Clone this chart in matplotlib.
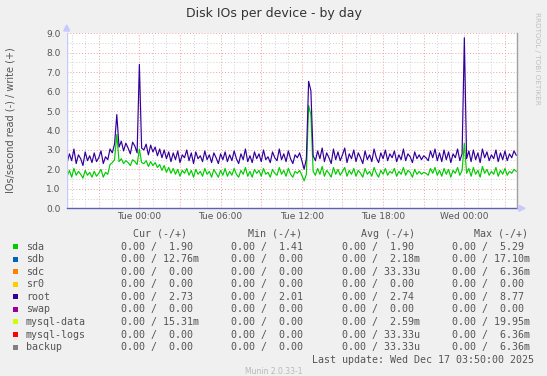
import numpy as np
import pandas as pd
import matplotlib
matplotlib.use("Agg")
import matplotlib.pyplot as plt
import matplotlib.dates as mdates
import matplotlib.ticker as ticker
from matplotlib.patches import Rectangle

# 10 minute samples, Mon 18:40 .. Wed 03:50
times = pd.date_range("2025-12-15 18:40", "2025-12-17 03:50", freq="10min")

# root (write), one row = one hour
root = [
    2.35, 2.80, 2.45, 3.05, 2.30, 2.75,
    2.55, 2.20, 2.90, 2.45, 2.70, 2.35,
    2.85, 2.40, 2.60, 2.95, 2.30, 2.65,
    2.50, 3.05, 2.85, 3.30, 4.82, 3.15,
    3.45, 2.95, 3.35, 3.10, 2.80, 3.40,
    3.20, 2.85, 7.40, 3.10, 3.00, 3.30,
    2.75, 3.25, 2.90, 3.15, 2.70, 3.05,
    2.60, 3.00, 2.55, 2.90, 2.40, 2.85,
    2.50, 2.95, 2.35, 2.75, 2.60, 3.00,
    2.45, 2.85, 2.30, 2.90, 2.55, 2.70,
    2.40, 2.95, 2.50, 2.75, 2.35, 2.85,
    2.60, 2.30, 2.80, 2.50, 2.90, 2.40,
    2.75, 2.45, 2.95, 2.55, 2.30, 2.80,
    2.50, 3.05, 2.40, 2.70, 2.35, 2.90,
    2.55, 2.80, 2.40, 3.00, 2.50, 2.65,
    2.35, 2.90, 2.60, 2.45, 3.05, 2.50,
    2.80, 2.40, 2.95, 2.55, 2.30, 2.75,
    2.60, 2.85, 2.45, 2.01, 2.55, 6.53,
    6.05, 2.70, 2.45, 2.95, 2.55, 3.10,
    2.40, 2.85, 2.60, 2.30, 3.05, 2.50,
    2.90, 2.45, 2.75, 3.10, 2.35, 2.80,
    2.55, 3.00, 2.40, 2.85, 2.60, 2.30,
    2.95, 2.50, 2.75, 2.40, 3.05, 2.60,
    2.35, 2.85, 2.55, 3.00, 2.45, 2.80,
    2.60, 2.95, 2.40, 2.75, 2.50, 3.05,
    2.45, 2.80, 2.65, 2.35, 2.90, 2.55,
    2.75, 2.50, 2.70, 2.60, 2.45, 2.95,
    2.60, 3.05, 2.45, 2.85, 2.40, 3.00,
    2.50, 2.90, 2.35, 2.80, 2.60, 3.05,
    2.45, 2.80, 8.77, 2.55, 2.95, 2.40,
    3.00, 2.50, 2.85, 2.35, 3.05, 2.60,
    2.90, 2.45, 2.75, 2.55, 3.00, 2.40,
    2.85, 2.50, 2.95, 2.45, 2.80, 2.60,
    2.95, 2.73,
]

# sda (write)
sda = [
    1.65, 1.95, 1.60, 2.05, 1.70, 1.90,
    1.75, 1.55, 1.95, 1.70, 1.85, 1.60,
    1.90, 1.65, 1.80, 2.00, 1.60, 1.85,
    1.75, 2.25, 2.35, 2.50, 3.80, 2.40,
    2.55, 2.30, 2.45, 2.35, 2.20, 2.50,
    2.40, 2.25, 3.05, 2.35, 2.30, 2.45,
    2.15, 2.40, 2.20, 2.35, 2.10, 2.25,
    1.95, 2.20, 1.85, 2.10, 1.80, 2.05,
    1.75, 2.00, 1.65, 1.95, 1.80, 2.05,
    1.70, 1.95, 1.60, 2.00, 1.75, 1.90,
    1.65, 2.05, 1.75, 1.90, 1.60, 2.00,
    1.80, 1.60, 1.95, 1.70, 2.05, 1.65,
    1.90, 1.70, 2.05, 1.75, 1.60, 1.95,
    1.75, 2.10, 1.65, 1.90, 1.60, 2.00,
    1.80, 1.95, 1.65, 2.05, 1.75, 1.85,
    1.60, 2.00, 1.80, 1.70, 2.10, 1.75,
    1.95, 1.65, 2.05, 1.75, 1.60, 1.90,
    1.80, 1.95, 1.70, 1.41, 1.75, 5.29,
    4.80, 1.90, 1.70, 2.05, 1.75, 2.15,
    1.65, 1.95, 1.80, 1.60, 2.10, 1.75,
    2.00, 1.70, 1.90, 2.10, 1.65, 1.95,
    1.75, 2.05, 1.65, 1.95, 1.80, 1.60,
    2.05, 1.75, 1.90, 1.65, 2.10, 1.80,
    1.60, 1.95, 1.75, 2.05, 1.70, 1.90,
    1.80, 2.05, 1.65, 1.90, 1.75, 2.10,
    1.70, 1.95, 1.85, 1.60, 2.00, 1.75,
    1.90, 1.75, 1.85, 1.80, 1.70, 2.05,
    1.80, 2.10, 1.70, 1.95, 1.65, 2.05,
    1.75, 2.00, 1.60, 1.95, 1.80, 2.10,
    1.70, 1.95, 3.35, 1.80, 2.05, 1.65,
    2.10, 1.75, 1.95, 1.60, 2.15, 1.80,
    2.00, 1.70, 1.90, 1.75, 2.10, 1.65,
    1.95, 1.75, 2.05, 1.70, 1.90, 1.80,
    2.00, 1.90,
]

# legend table
names = ["sda", "sdb", "sdc", "sr0", "root", "swap", "mysql-data", "mysql-logs", "backup"]
colors = ["#00CC00", "#0066B3", "#FF8000", "#FFCC00", "#330099", "#990099",
          "#CCFF00", "#FF0000", "#808080"]
cur = ["0.00 /  1.90", "0.00 / 12.76m", "0.00 /  0.00", "0.00 /  0.00", "0.00 /  2.73",
       "0.00 /  0.00", "0.00 / 15.31m", "0.00 /  0.00", "0.00 /  0.00"]
mins = ["0.00 /  1.41", "0.00 /  0.00", "0.00 /  0.00", "0.00 /  0.00", "0.00 /  2.01",
        "0.00 /  0.00", "0.00 /  0.00", "0.00 /  0.00", "0.00 /  0.00"]
avgs = ["0.00 /  1.90", "0.00 /  2.18m", "0.00 / 33.33u", "0.00 /  0.00", "0.00 /  2.74",
        "0.00 /  0.00", "0.00 /  2.59m", "0.00 / 33.33u", "0.00 / 33.33u"]
maxs = ["0.00 /  5.29", "0.00 / 17.10m", "0.00 /  6.36m", "0.00 /  0.00", "0.00 /  8.77",
        "0.00 /  0.00", "0.00 / 19.95m", "0.00 /  6.36m", "0.00 /  6.36m"]

W, H = 547, 376
txt = "#555555"
fig = plt.figure(figsize=(W / 100, H / 100), dpi=100)
fig.patch.set_facecolor("#F0F0F0")

x0, x1, y0, y1 = 66.7, 516.7, 33.3, 208.3
ax = fig.add_axes([x0 / W, 1 - y1 / H, (x1 - x0) / W, (y1 - y0) / H])
ax.set_facecolor("white")

ax.set_xlim(pd.Timestamp("2025-12-15 18:38"), pd.Timestamp("2025-12-17 03:52"))
ax.set_ylim(0, 9)

# grid: red every 3h / 1.0, gray every 1h / 0.5
ax.xaxis.set_major_locator(mdates.HourLocator(byhour=range(0, 24, 3)))
ax.xaxis.set_minor_locator(mdates.HourLocator())
ax.yaxis.set_major_locator(ticker.MultipleLocator(1.0))
ax.yaxis.set_minor_locator(ticker.MultipleLocator(0.5))
ax.grid(which="minor", color="#D0D0D0", linestyle=(0, (1, 2)), linewidth=0.7)
ax.grid(which="major", color="#F0A0A0", linestyle=(0, (1, 2)), linewidth=0.7)
ax.set_axisbelow(True)


def fmt_time(v, pos):
    d = mdates.num2date(v)
    if d.hour % 6 == 0:
        return d.strftime("%a %H:%M")
    return ""


ax.xaxis.set_major_formatter(ticker.FuncFormatter(fmt_time))
ax.yaxis.set_major_formatter(ticker.FormatStrFormatter("%.1f"))
ax.tick_params(which="both", length=0, colors=txt, labelsize=6.5)
ax.tick_params(axis="y", pad=4.5)
ax.tick_params(axis="x", pad=2.5)

ax.plot(times, sda, color=colors[0], lw=0.85)
ax.plot(times, root, color=colors[4], lw=0.85)

for s in ["top", "left"]:
    ax.spines[s].set_visible(False)
ax.spines["bottom"].set_color("#6060B0")
ax.spines["bottom"].set_linewidth(1.0)
ax.spines["right"].set_color("#A0A0A0")
ax.spines["right"].set_linewidth(1.0)
ax.axvline(ax.get_xlim()[0], color="#C8C8FF", lw=1.0)
ax.spines["right"].set_zorder(3)

# axis arrows
fig.add_artist(plt.Polygon([[x0 / W - 3 / W, 1 - 31 / H], [x0 / W + 3 / W, 1 - 31 / H],
                            [x0 / W, 1 - 25 / H]], closed=True, color="#C8C8FF",
                           transform=fig.transFigure))
fig.add_artist(plt.Polygon([[519 / W, 1 - 205.3 / H], [519 / W, 1 - 211.3 / H],
                            [525 / W, 1 - 208.3 / H]], closed=True, color="#C8C8FF",
                           transform=fig.transFigure))

fig.text(273.5 / W, 1 - 13 / H, "Disk IOs per device - by day", ha="center", va="center",
         fontsize=9, color="#333333")
fig.text(11 / W, 1 - 120 / H, "IOs/second read (-) / write (+)", rotation=90,
         ha="center", va="center", fontsize=7, color=txt)
fig.text(537 / W, 1 - 58 / H, "RRDTOOL / TOBI OETIKER", rotation=270, ha="center",
         va="center", fontsize=5.2, color="#C0C0C0")

mono = "DejaVu Sans Mono"
lf = 7.2
hy = 233.7
for xh, h in zip([133.3, 247.7, 361.1, 473.8], ["Cur (-/+)", "Min (-/+)", "Avg (-/+)", "Max (-/+)"]):
    fig.text(xh / W, 1 - hy / H, h, family=mono, fontsize=lf, color=txt, va="center")

for i, n in enumerate(names):
    yc = 246.6 + i * 12.56
    fig.add_artist(Rectangle((13 / W, 1 - (yc + 2.5) / H), 5 / W, 5 / H,
                             transform=fig.transFigure, color=colors[i], lw=0))
    fig.text(26 / W, 1 - yc / H, n, family=mono, fontsize=lf, color=txt, va="center")
    for xc, col in zip([121.2, 231.2, 342.2, 452.2], [cur, mins, avgs, maxs]):
        fig.text(xc / W, 1 - yc / H, col[i], family=mono, fontsize=lf, color=txt, va="center")

fig.text(533.5 / W, 1 - 359.7 / H, "Last update: Wed Dec 17 03:50:00 2025", family=mono,
         fontsize=lf, color=txt, va="center", ha="right")
fig.text(273.5 / W, 1 - 371.5 / H, "Munin 2.0.33-1", fontsize=5.5, color="#B8B8B8",
         ha="center", va="center")

fig.savefig("out.png", dpi=100, facecolor=fig.get_facecolor())
